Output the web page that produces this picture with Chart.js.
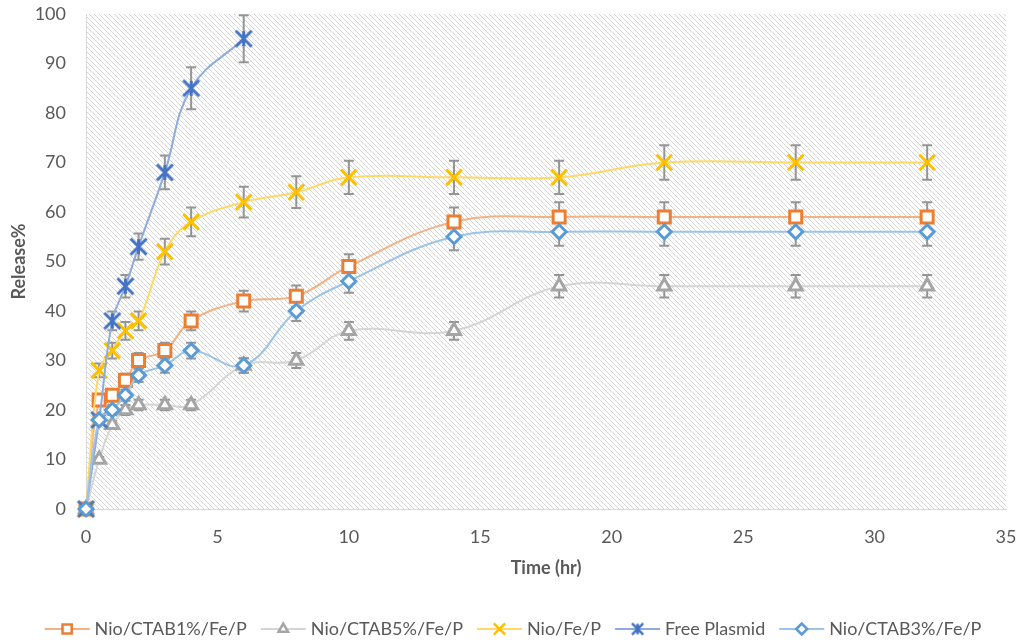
<!DOCTYPE html>
<html>
<head>
<meta charset="utf-8">
<title>Release profile</title>
<script src="https://cdn.jsdelivr.net/npm/chart.js@4.4.1/dist/chart.umd.min.js"></script>
<style>
  html, body { margin: 0; padding: 0; background: #ffffff; }
  #wrap { width: 1024px; height: 644px; }
</style>
</head>
<body>
<div id="wrap"><canvas id="chart" width="1024" height="644"></canvas></div>
<script>
// Sampling times (hr)
const timeHr = [0, 0.5, 1, 1.5, 2, 3, 4, 6, 8, 10, 14, 18, 22, 27, 32];
const freePlasmidTimeHr = [0, 0.5, 1, 1.5, 2, 3, 4, 6];

// Cumulative release (%)
const ctab1 = [0, 22, 23, 26, 30, 32, 38, 42, 43, 49, 58, 59, 59, 59, 59];
const ctab5 = [0, 10, 17, 20, 21, 21, 21, 29, 30, 36, 36, 45, 45, 45, 45];
const nioFeP = [0, 28, 32, 36, 38, 52, 58, 62, 64, 67, 67, 67, 70, 70, 70];
const freePlasmid = [0, 18, 38, 45, 53, 68, 85, 95];
const ctab3 = [0, 18, 20, 23, 27, 29, 32, 29, 40, 46, 55, 56, 56, 56, 56];

// Error bars: percentage of each value
const errorPercent = 5;

// Axis ranges and labels
const xTicks = [0, 5, 10, 15, 20, 25, 30, 35];
const yTicks = [0, 10, 20, 30, 40, 50, 60, 70, 80, 90, 100];
const seriesNames = ['Nio/CTAB1%/Fe/P', 'Nio/CTAB5%/Fe/P', 'Nio/Fe/P', 'Free Plasmid', 'Nio/CTAB3%/Fe/P'];
const xTitle = 'Time (hr)';
const yTitle = 'Release%';

const FONT = 'Lato, "Open Sans", "DejaVu Sans", sans-serif';
const TEXT = '#595959';

function toPoints(xs, ys) { return ys.map((y, i) => ({ x: xs[i], y: y })); }

// Asterisk marker (X with a vertical stroke)
function makeAsterisk(color, half, lw) {
  const size = Math.ceil(half * 2 + lw + 2);
  const c = document.createElement('canvas');
  c.width = size; c.height = size;
  const g = c.getContext('2d');
  const m = size / 2;
  g.strokeStyle = color; g.lineWidth = lw; g.lineCap = 'butt';
  g.beginPath();
  g.moveTo(m - half * 0.8, m - half * 0.8); g.lineTo(m + half * 0.8, m + half * 0.8);
  g.moveTo(m + half * 0.8, m - half * 0.8); g.lineTo(m - half * 0.8, m + half * 0.8);
  g.moveTo(m, m - half * 0.75); g.lineTo(m, m + half * 0.75);
  g.stroke();
  return c;
}

const asteriskBig = makeAsterisk('#4472C4', 10, 3);
const asteriskSmall = makeAsterisk('#4472C4', 7, 2.5);

// Diagonal hatch fill for the plot area
function makeHatch() {
  const p = 5;
  const c = document.createElement('canvas');
  c.width = p; c.height = p;
  const g = c.getContext('2d');
  g.fillStyle = '#ffffff'; g.fillRect(0, 0, p, p);
  g.strokeStyle = '#d6d6d6'; g.lineWidth = 1;
  g.beginPath();
  g.moveTo(-1, -1); g.lineTo(p + 1, p + 1);
  g.moveTo(-1, p - 1); g.lineTo(1, p + 1);
  g.moveTo(p - 1, -1); g.lineTo(p + 1, 1);
  g.stroke();
  return c;
}

const seriesStyle = [
  { data: ctab1, xs: timeHr, marker: '#ED7D31', line: '#F4B183', pointStyle: 'rect', radius: 8.5, legendRadius: 6.5, order: 5 },
  { data: ctab5, xs: timeHr, marker: '#A5A5A5', line: '#D5D5D5', pointStyle: 'triangle', radius: 7.5, legendRadius: 5.5, order: 4 },
  { data: nioFeP, xs: timeHr, marker: '#FFC000', line: '#FFD966', pointStyle: 'crossRot', radius: 11, legendRadius: 8, order: 3 },
  { data: freePlasmid, xs: freePlasmidTimeHr, marker: '#4472C4', line: '#8FAADC', pointStyle: asteriskBig, legendStyle: asteriskSmall, radius: 10, legendRadius: 7, order: 2 },
  { data: ctab3, xs: timeHr, marker: '#5B9BD5', line: '#9DC3E6', pointStyle: 'rectRot', radius: 7, legendRadius: 5.5, order: 1 }
];

const datasets = seriesStyle.map((s, i) => ({
  label: seriesNames[i],
  data: toPoints(s.xs, s.data),
  borderColor: s.line,
  borderWidth: 2,
  tension: 0.4,
  pointStyle: s.pointStyle,
  pointRadius: s.radius,
  pointHoverRadius: s.radius,
  pointBackgroundColor: '#ffffff',
  pointBorderColor: s.marker,
  pointBorderWidth: 3,
  order: s.order,
  clip: false
}));

const hatchPlugin = {
  id: 'hatch',
  beforeDraw(chart) {
    const { ctx, chartArea: a } = chart;
    ctx.save();
    ctx.fillStyle = '#ffffff';
    ctx.fillRect(0, 0, chart.width, chart.height);
    ctx.fillStyle = ctx.createPattern(makeHatch(), 'repeat');
    ctx.fillRect(a.left, a.top, a.right - a.left, a.bottom - a.top);
    ctx.restore();
  }
};

const errorBarPlugin = {
  id: 'errorBars',
  beforeDatasetsDraw(chart) {
    const { ctx, scales: { x, y } } = chart;
    ctx.save();
    ctx.strokeStyle = '#959595';
    ctx.lineWidth = 2;
    chart.data.datasets.forEach(ds => {
      ds.data.forEach(pt => {
        if (!pt.y) return;
        const err = pt.y * errorPercent / 100;
        const px = x.getPixelForValue(pt.x);
        const top = y.getPixelForValue(pt.y + err);
        const bot = y.getPixelForValue(pt.y - err);
        ctx.beginPath();
        ctx.moveTo(px, top); ctx.lineTo(px, bot);
        ctx.moveTo(px - 5, top); ctx.lineTo(px + 5, top);
        ctx.moveTo(px - 5, bot); ctx.lineTo(px + 5, bot);
        ctx.stroke();
      });
    });
    ctx.restore();
  }
};

const legendPlugin = {
  id: 'lineLegend',
  afterDraw(chart) {
    const { ctx } = chart;
    const yMid = 629;
    const lineLen = 45, gapText = 5, gapItem = 14;
    ctx.save();
    ctx.font = '18px ' + FONT;
    ctx.textBaseline = 'middle';
    const widths = seriesNames.map(n => lineLen + gapText + ctx.measureText(n).width);
    const total = widths.reduce((a, b) => a + b, 0) + gapItem * (widths.length - 1);
    let xPos = 513 - total / 2;
    seriesStyle.forEach((s, i) => {
      ctx.strokeStyle = s.line;
      ctx.lineWidth = 2;
      ctx.beginPath();
      ctx.moveTo(xPos, yMid); ctx.lineTo(xPos + lineLen, yMid);
      ctx.stroke();
      ctx.fillStyle = '#ffffff';
      ctx.strokeStyle = s.marker;
      ctx.lineWidth = 2.5;
      Chart.helpers.drawPoint(ctx, {
        pointStyle: s.legendStyle || s.pointStyle,
        radius: s.legendRadius,
        rotation: 0,
        borderWidth: 2.5
      }, xPos + lineLen / 2, yMid);
      ctx.fillStyle = TEXT;
      ctx.fillText(seriesNames[i], xPos + lineLen + gapText, yMid);
      xPos += widths[i] + gapItem;
    });
    ctx.restore();
  }
};

new Chart(document.getElementById('chart'), {
  type: 'line',
  data: { datasets },
  plugins: [hatchPlugin, errorBarPlugin, legendPlugin],
  options: {
    responsive: false,
    animation: false,
    layout: { padding: { left: 0, right: 18, top: 14, bottom: 56 } },
    plugins: { legend: { display: false }, tooltip: { enabled: false } },
    scales: {
      x: {
        type: 'linear',
        min: xTicks[0],
        max: xTicks[xTicks.length - 1],
        afterBuildTicks(scale) { scale.ticks = xTicks.map(v => ({ value: v })); },
        afterFit(scale) { scale.height = 79; scale.paddingLeft = 0; scale.paddingRight = 0; },
        grid: { color: 'transparent', drawTicks: false },
        border: { display: true, color: '#d9d9d9', width: 1 },
        ticks: { color: TEXT, font: { family: FONT, size: 18 }, padding: 17, maxRotation: 0 },
        title: { display: true, text: xTitle, color: TEXT, font: { family: FONT, size: 18, weight: 'bold' }, padding: { top: 4, bottom: 9 } }
      },
      y: {
        type: 'linear',
        min: yTicks[0],
        max: yTicks[yTicks.length - 1],
        afterBuildTicks(scale) { scale.ticks = yTicks.map(v => ({ value: v })); },
        afterFit(scale) { scale.width = 86; scale.paddingTop = 0; scale.paddingBottom = 0; },
        grid: { color: 'transparent', drawTicks: false },
        border: { display: true, color: '#d9d9d9', width: 1 },
        ticks: { color: TEXT, font: { family: FONT, size: 18 }, padding: 20 },
        title: { display: true, text: yTitle, color: TEXT, font: { family: FONT, size: 18, weight: 'bold' }, padding: { top: 8, bottom: 4 } }
      }
    }
  }
});
</script>
</body>
</html>
